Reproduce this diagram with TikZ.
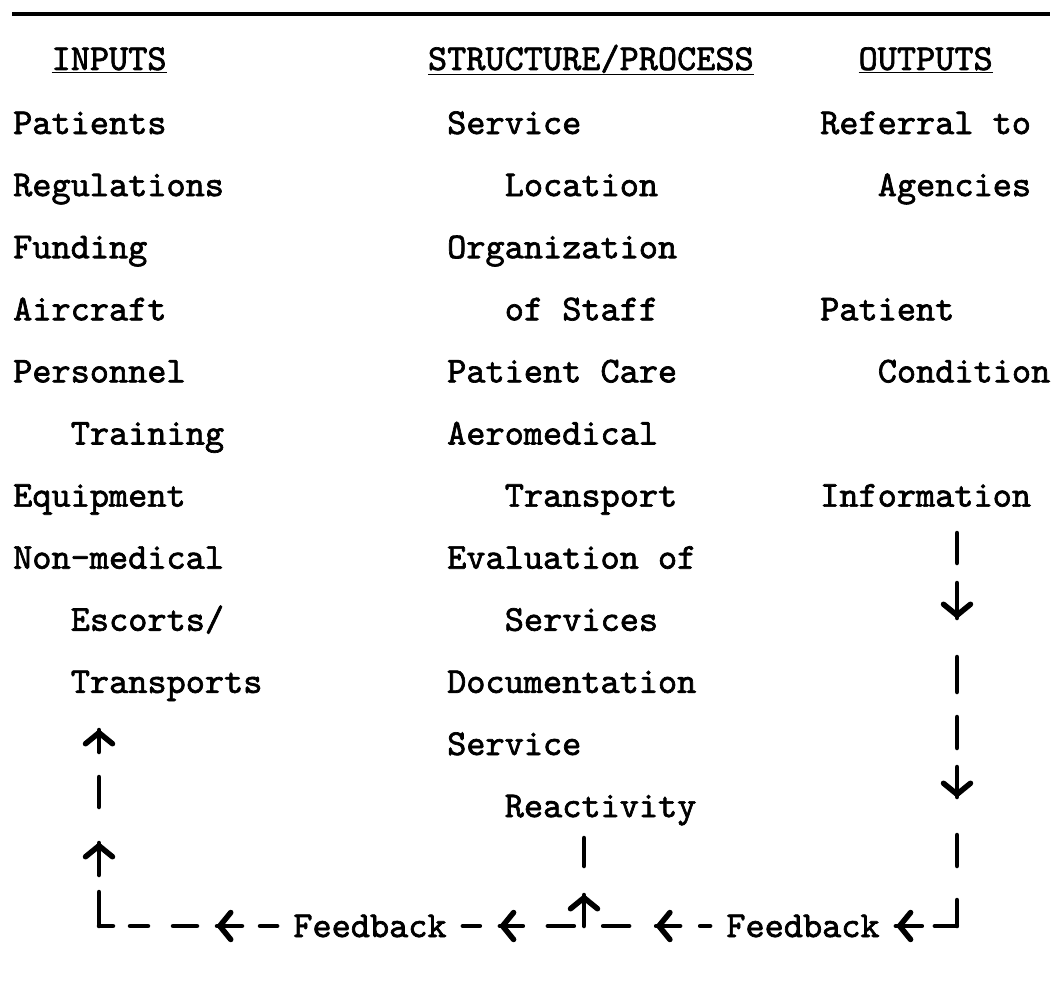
\documentclass[tikz,border=0pt]{standalone}
\usepackage{fontspec}
\usetikzlibrary{arrows.meta,decorations.markings}

\newfontfamily\twfam{lmmono10-regular.otf}[FakeBold=1.8]
\newcommand{\tw}{\twfam\fontsize{36.5}{40}\selectfont}

\tikzset{
  txt/.style={anchor=base west, inner sep=0pt, font=\tw},
  fbword/.style={inner ysep=0pt, inner xsep=16pt, font=\tw},
  fbline/.style={line width=4.5pt, line cap=round},
  fbtip/.tip={Straight Barb[length=11pt,width=27pt,line width=5.5pt,round]},
  tipat/.style={postaction={decorate,decoration={markings,mark=at position #1 with {\arrow{fbtip}}}}},
  tipback/.style={postaction={decorate,decoration={markings,mark=at position #1 with {\arrowreversed{fbtip}}}}}
}

\begin{document}
\begin{tikzpicture}[x=1pt,y=-1pt]
        \useasboundingbox (0,0) rectangle (1055,998);
        % Rule on top
        \draw[line width=3.2pt] (12,14) -- (1050,14);
        % Column heads
        \node[txt] (hin) at (51.4,70) {\underline{INPUTS}};
        \node[txt] (hmid) at (427.8,70) {\underline{STRUCTURE/PROCESS}};
        \node[txt] (hout) at (858.4,70) {\underline{OUTPUTS}};
        % Inputs
        \foreach \ind/\t [count=\k] in {0/Patients,0/Regulations,0/Funding,0/Aircraft,0/Personnel,
            3/Training,0/Equipment,0/Non-medical,3/{Escorts/},3/Transports}
            \node[txt] (in\k) at ({13+19.2*\ind},{134+62.1*(\k-1)}) {\t};
        % Structure/process
        \foreach \ind/\t [count=\k] in {0/Service,3/Location,0/Organization,3/of Staff,0/Patient Care,
            0/Aeromedical,3/Transport,0/Evaluation of,3/Services,0/Documentation,0/Service,3/Reactivity}
            \node[txt] (mid\k) at ({447+19.2*\ind},{134+62.1*(\k-1)}) {\t};
        % Outputs
        \foreach \r/\ind/\t in {1/0/Referral to,2/3/Agencies,4/0/Patient,5/3/Condition,7/0/Information}
            \node[txt] (out\r) at ({820+19.2*\ind},{134+62.1*(\r-1)}) {\t};
        % Feedback loop
        \coordinate (cL) at (99,926);
        \coordinate (cM) at (584,926);
        \coordinate (cR) at (957,926);
        \node[fbword] (fbL) at (370,926) {Feedback};
        \node[fbword] (fbR) at (803,926) {Feedback};
        \draw[fbline, dash pattern=on 26pt off 34pt on 31pt off 38pt on 30pt off 19pt on 31pt off 25pt on 35pt off 39pt on 35pt off 20pt on 30pt off 60pt,
            tipback=129pt, tipback=308pt] (cR) -- (cR |- out7.south);
        \draw[fbline, dash pattern=on 26pt off 13pt on 22pt off 20pt, tipback=1pt] (fbR) -- (cR);
        \draw[fbline, dash pattern=on 10pt off 20pt on 24pt off 27pt on 26pt off 30pt, tipat=54pt] (fbR) -- (cM);
        \draw[fbline, dash pattern=on 31pt off 29pt on 28pt off 40pt, tipat=31pt] (cM) -- (cM |- mid12.south);
        \draw[fbline, dash pattern=on 17pt off 20pt on 23pt off 25pt on 26pt off 30pt, tipback=37pt] (fbL) -- (cM);
        \draw[fbline, dash pattern=on 14pt off 17pt on 18pt off 25pt on 24pt off 20pt on 25pt off 18pt on 20pt off 40pt,
            tipback=118pt] (cL) -- (fbL);
        \draw[fbline, dash pattern=on 34pt off 17pt on 32pt off 36pt on 30pt off 25pt on 22pt off 60pt,
            tipat=83pt, tipat=196pt] (cL) -- (cL |- in10.south);
\end{tikzpicture}
\end{document}
